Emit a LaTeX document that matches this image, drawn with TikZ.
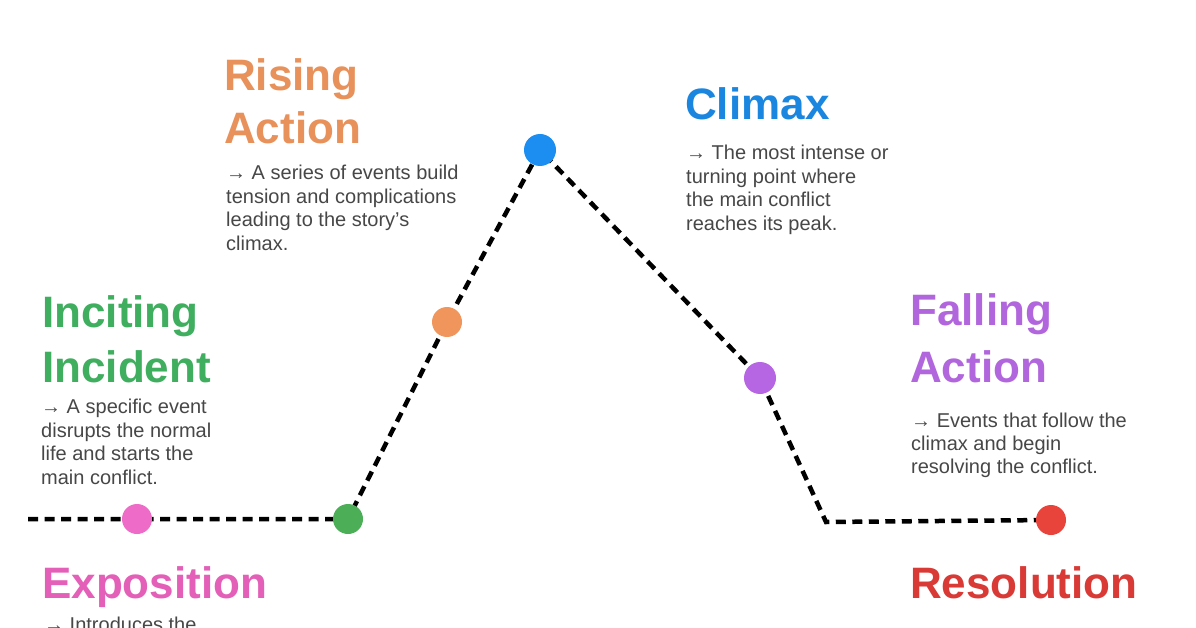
\documentclass[tikz,border=0pt]{standalone}
\usepackage{fontspec}
\setmainfont{Liberation Sans}
\usetikzlibrary{backgrounds}
\definecolor{hpink}{HTML}{E35FB8}
\definecolor{hgreen}{HTML}{3FAE5F}
\definecolor{horange}{HTML}{E8915A}
\definecolor{hblue}{HTML}{1A86E0}
\definecolor{hpurple}{HTML}{B266DD}
\definecolor{hred}{HTML}{D93A36}
\definecolor{dpink}{HTML}{EE6BC8}
\definecolor{dgreen}{HTML}{4CAF58}
\definecolor{dorange}{HTML}{F0965C}
\definecolor{dblue}{HTML}{1C8EF2}
\definecolor{dpurple}{HTML}{B766E3}
\definecolor{dred}{HTML}{E8443C}
\definecolor{bodygray}{HTML}{474747}
\begin{document}
\begin{tikzpicture}[x=1pt,y=-1pt,
  head/.style={anchor=north west, inner sep=0pt, align=left},
  hfont/.style={font=\fontsize{44}{#1}\selectfont\bfseries},
  body/.style={anchor=north west, inner sep=0pt, align=left, text=bodygray,
    font=\fontsize{20}{23.7}\selectfont},
  dot/.style={circle, inner sep=0pt, minimum size=#1},
  dot/.default=30pt,
  dashline/.style={line width=4.5pt, dash pattern=on 10pt off 6.5pt}]
\useasboundingbox (0,0) rectangle (1196,628);
% points on the curve
\node[dot, fill=dpink] (expo) at (137,519) {};
\node[dot, fill=dgreen] (incite) at (348,519) {};
\node[dot, fill=dorange] (rise) at (447,322) {};
\node[dot=32pt, fill=dblue] (climax) at (540,150) {};
\node[dot=32pt, fill=dpurple] (fall) at (760,378) {};
\node[dot, fill=dred] (resol) at (1051,520) {};
\coordinate (start) at (28,519);
\coordinate (corner) at (826,522);
\begin{scope}[on background layer]
  \fill[white] (0,0) rectangle (1196,628);
  \draw[dashline] (start) -- (expo.center) -- (incite.center) -- (rise.center)
    -- (climax.center) -- (fall.center) -- (corner) -- (resol.center);
\end{scope}
% headings
\node[head, hfont=53, text=horange] (hrise) at (224,58.5) {Rising\\Action};
\node[head, hfont=55, text=hblue] (hclimax) at (685,87.5) {Climax};
\node[head, hfont=55, text=hgreen] (hincite) at (42,295.5) {Inciting\\Incident};
\node[head, hfont=57, text=hpurple] (hfall) at (910,293.5) {Falling\\Action};
\node[head, hfont=55, text=hpink] (hexpo) at (42,566.5) {Exposition};
\node[head, hfont=55, text=hred] (hresol) at (910,566.5) {Resolution};
% descriptions
\node[body] (brise) at (226,164.7) {→ A series of events build\\tension and complications\\leading to the story’s\\climax.};
\node[body] (bclimax) at (686,144.7) {→ The most intense or\\turning point where\\the main conflict\\reaches its peak.};
\node[body] (bincite) at (41,398.7) {→ A specific event\\disrupts the normal\\life and starts the\\main conflict.};
\node[body, font=\fontsize{20}{23}\selectfont] (bfall) at (911,412.7) {→ Events that follow the\\climax and begin\\resolving the conflict.};
\node[body] (bexpo) at (44,616.7) {→ Introduces the};
\end{tikzpicture}
\end{document}
